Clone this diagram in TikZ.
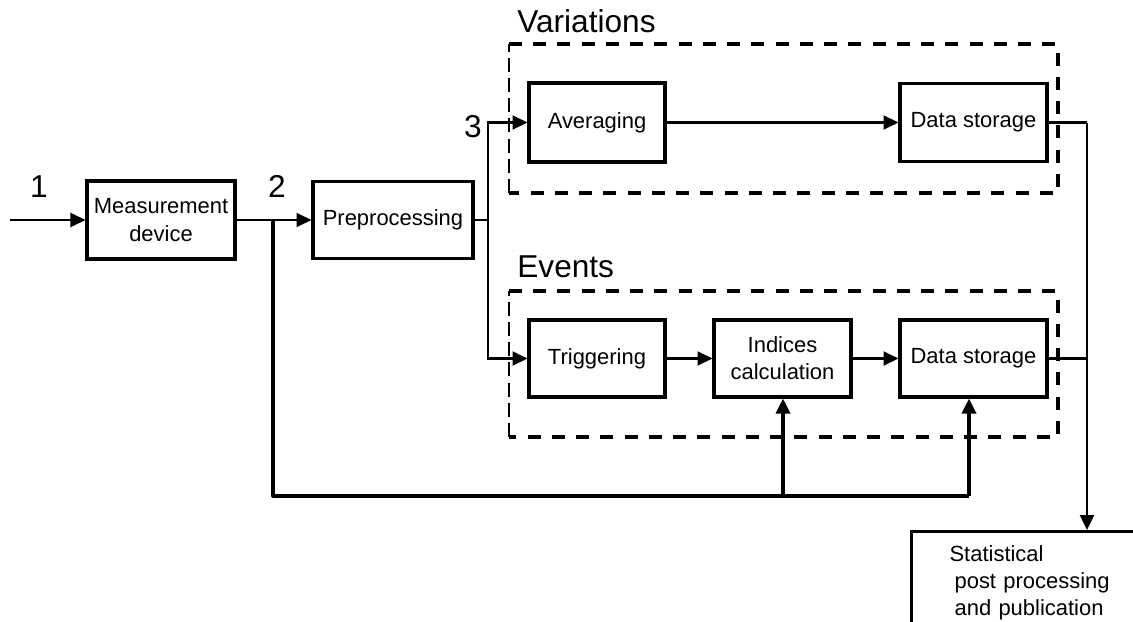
\documentclass[tikz,border=0pt]{standalone}
\usepackage{fontspec}
\setmainfont{Liberation Sans}
\usetikzlibrary{arrows.meta}
\begin{document}
\begin{tikzpicture}[x=0.02cm,y=-0.02cm,
  block/.style={draw, line width=1.8pt, inner sep=0pt, align=center,
    font=\fontsize{12.5}{15.5}\selectfont},
  flow/.style={line width=1.15pt},
  tip/.style={-{Triangle[length=8.5pt,width=8pt]}},
  arr/.style={flow, tip},
  bus/.style={line width=1.8pt},
  busarr/.style={bus, tip},
  groupline/.style={line width=1.8pt, dash pattern=on 7.4pt off 6.4pt},
  groupside/.style={line width=0.9pt, dash pattern=on 8pt off 3.5pt},
  bigtext/.style={font=\fontsize{18}{20}\selectfont, inner sep=0pt},
]
\useasboundingbox (0,0) rectangle (1133,622);
\clip (0,0) rectangle (1133,622);

% processing blocks
\node[block, minimum width=2.96cm, minimum height=1.56cm] (meas) at (161,220) {Measurement\\device};
\node[block, minimum width=3.2cm, minimum height=1.54cm] (prep) at (393,220) {Preprocessing};
\node[block, minimum width=2.72cm, minimum height=1.58cm] (avg) at (597,122.5) {Averaging};
\node[block, minimum width=2.94cm, minimum height=1.56cm] (ds1) at (973.5,122.5) {Data storage};
\node[block, minimum width=2.72cm, minimum height=1.54cm] (trig) at (597,358.5) {Triggering};
\node[block, minimum width=2.74cm, minimum height=1.54cm] (idx) at (782.5,358.5) {Indices\\calculation};
\node[block, minimum width=2.94cm, minimum height=1.54cm] (ds2) at (973.5,358.5) {Data storage};
\node[block, anchor=north west, align=left, text width=4cm, inner xsep=0.76cm, inner ysep=0.28cm]
  (stat) at (910,530) {Statistical\\\hspace*{0.1cm}post processing\\\hspace*{0.1cm}and publication};

% group frames
\coordinate (vNW) at (509,44);
\coordinate (vSE) at (1058,193);
\coordinate (eNW) at (509,291);
\coordinate (eSE) at (1058,437);
\draw[groupline] (vNW) -- (vSE |- vNW) -- (vSE) -- (vNW |- vSE);
\draw[groupside] (vNW |- vSE) -- (vNW);
\draw[groupline] (eNW) -- (eSE |- eNW) -- (eSE) -- (eNW |- eSE);
\draw[groupside] (eNW |- eSE) -- (eNW);

% labels
\node[bigtext, anchor=base west] (varlbl) at (517,32) {Variations};
\node[bigtext, anchor=base west] (evlbl) at (517,277) {Events};
\node[bigtext, anchor=base] (lbl1) at (39,197) {1};
\node[bigtext, anchor=base] (lbl2) at (277,197) {2};
\node[bigtext, anchor=base] (lbl3) at (473,137) {3};

% junction points
\coordinate (src) at (10,220);
\coordinate (n2) at (273,220);
\coordinate (n3) at (488,220);
\coordinate (fbL) at (273,496);
\coordinate (fbM) at (783,496);
\coordinate (fbR) at (969,496);
\coordinate (out) at (1087,122.5);

% signal flow
\draw[arr] (src) -- (meas.west);
\draw[arr] (meas.east) -- (prep.west);
\draw[flow] (prep.east) -- (n3);
\draw[arr] (n3) |- (avg.west);
\draw[arr] (n3) |- (trig.west);
\draw[arr] (avg.east) -- (ds1.west);
\draw[arr] (trig.east) -- (idx.west);
\draw[arr] (idx.east) -- (ds2.west);
\draw[flow] (ds1.east) -- (out);
\draw[arr] (out) -- (out |- stat.north);
\draw[flow] (ds2.east) -- (ds2.east -| out);

% raw data feedback bus
\draw[bus, line join=round] (n2) -- (fbL) -- (fbR);
\draw[busarr] (fbR) -- (fbR |- ds2.south);
\draw[busarr] (fbM) -- (fbM |- idx.south);
\end{tikzpicture}
\end{document}
